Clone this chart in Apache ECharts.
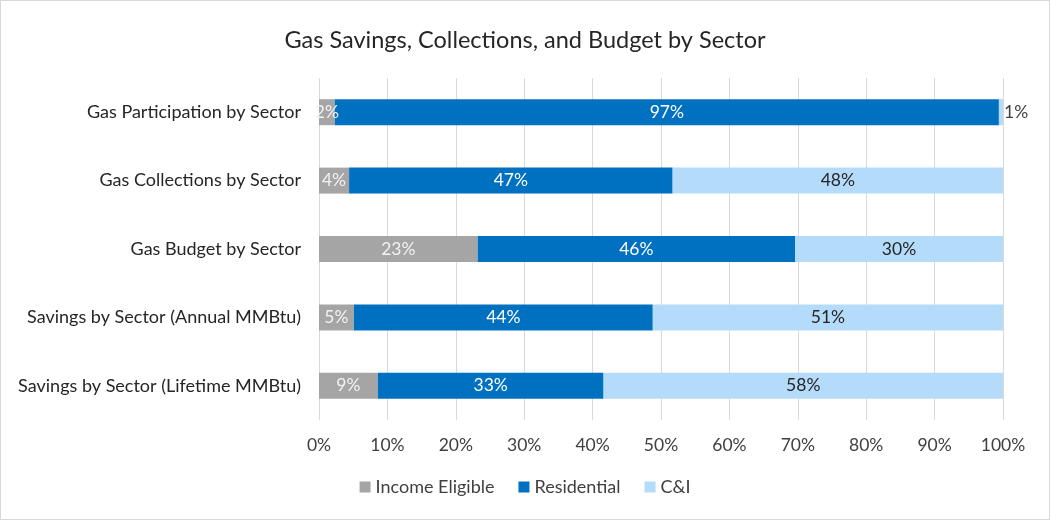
<!DOCTYPE html>
<html><head><meta charset="utf-8">
<script src="https://cdn.jsdelivr.net/npm/echarts@6/dist/echarts.min.js"></script>
<style>html,body{margin:0;padding:0;background:#fff}#c{width:1050px;height:520px;box-sizing:border-box;border:1px solid #d9d9d9}</style>
</head><body><div id="c"></div>
<script>
const categories = ["Gas Participation by Sector","Gas Collections by Sector","Gas Budget by Sector","Savings by Sector (Annual MMBtu)","Savings by Sector (Lifetime MMBtu)"];
const incomeEligible = [2.3, 4.4, 23.2, 5.1, 8.6];
const residential = [97.1, 47.3, 46.4, 43.7, 33.0];
const cAndI = [0.6, 48.3, 30.4, 51.2, 58.4];
const xTicks = [0,10,20,30,40,50,60,70,80,90,100];

const FONT = 'Lato, "Open Sans", sans-serif';
const chart = echarts.init(document.getElementById('c'));
const fmt = p => Math.round(p.value) + '%';
function mk(name, data, color, labelColor) {
  return {
    name, type: 'bar', stack: 'total', data: data.map(v => v < 1 ? {value: v, label: {position: 'right', distance: 1, color: '#404040'}} : v),
    itemStyle: {color}, barCategoryGap: '62%',
    label: {show: true, position: 'inside', formatter: fmt, color: labelColor, fontSize: 17.5, fontFamily: FONT},
    emphasis: {disabled: true}
  };
}
chart.setOption({
  animation: false,
  title: {text: 'Gas Savings, Collections, and Budget by Sector', left: 'center', top: 22,
    textStyle: {fontSize: 23.5, fontWeight: 'normal', color: '#262626', fontFamily: FONT}},
  grid: {left: 318, right: 46, top: 77, bottom: 99, containLabel: false},
  legend: {bottom: 18, left: 'center', itemWidth: 11, itemHeight: 11, itemGap: 24, icon: 'rect',
    textStyle: {fontSize: 18, color: '#404040', fontFamily: FONT}},
  xAxis: {type: 'value', min: 0, max: 100, interval: 10,
    axisLabel: {formatter: v => xTicks.includes(v) ? v + '%' : '', fontSize: 17.5, color: '#404040', fontFamily: FONT, margin: 16},
    splitLine: {lineStyle: {color: '#d9d9d9'}}, axisLine: {show: false}, axisTick: {show: false}},
  yAxis: {type: 'category', data: categories, inverse: true,
    axisLabel: {fontSize: 18, color: '#262626', fontFamily: FONT, margin: 18},
    axisLine: {show: false}, axisTick: {show: false}},
  series: [
    mk('Income Eligible', incomeEligible, '#a5a5a5', '#f2f2f2'),
    mk('Residential', residential, '#0070c0', '#ffffff'),
    mk('C&I', cAndI, '#b4dbf9', '#262626')
  ]
});
</script></body></html>
